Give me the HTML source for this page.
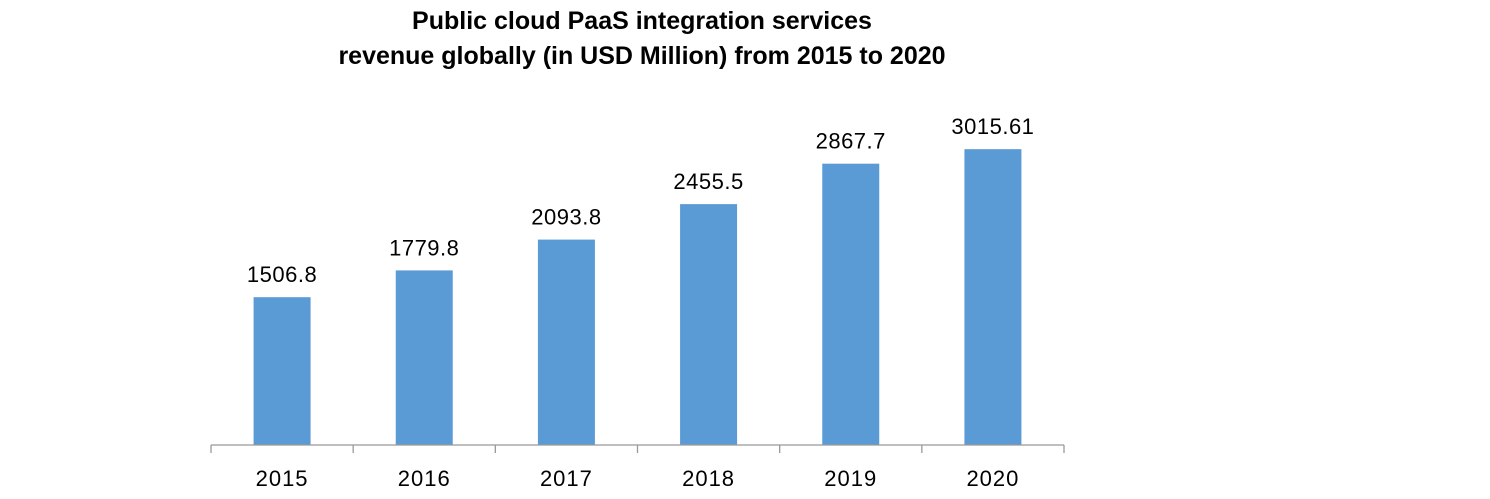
<!DOCTYPE html>
<html><head><meta charset="utf-8"><style>
body{margin:0;background:#fff;width:1490px;height:494px;overflow:hidden}
svg text{font-family:"Liberation Sans",sans-serif}
</style></head><body>
<svg id="c" width="1490" height="494">
<text x="642" y="29" text-anchor="middle" font-size="25" font-weight="bold" fill="#000">Public cloud PaaS integration services</text>
<text x="642" y="64" text-anchor="middle" font-size="25" font-weight="bold" fill="#000">revenue globally (in USD Million) from 2015 to 2020</text>
<g id="plot"></g>
</svg>
<script>
const categories=["2015","2016","2017","2018","2019","2020"];
const values=[1506.8,1779.8,2093.8,2455.5,2867.7,3015.61];
const valueLabels=["1506.8","1779.8","2093.8","2455.5","2867.7","3015.61"];
const NS="http://www.w3.org/2000/svg";
const g=document.getElementById('plot');
const x0=211,x1=1064,base=445,scale=0.0981;
const step=(x1-x0)/categories.length;
const xs=i=>x0+step*(i+0.5);
const ys=v=>base-v*scale;
function mk(t,a){const e=document.createElementNS(NS,t);for(const k in a)e.setAttribute(k,a[k]);g.appendChild(e);return e;}
categories.forEach((c,i)=>{
  const b=mk('rect',{x:xs(i)-28.5,y:ys(values[i]),width:57,height:base-ys(values[i]),fill:'#5b9bd5'});
  
  
  const t=mk('text',{x:xs(i),y:ys(values[i])-15,'text-anchor':'middle','font-size':22,'letter-spacing':0.5,fill:'#000'});
  t.textContent=valueLabels[i];
  
  
  const l=mk('text',{x:xs(i),y:486,'text-anchor':'middle','font-size':22,'letter-spacing':1,fill:'#000'});
  l.textContent=c;
  
  
});
const ax=mk('line',{x1:x0,x2:x1,y1:base,y2:base,stroke:'#999','stroke-width':1.3});


for(let i=0;i<=categories.length;i++){
  const tk=mk('line',{x1:x0+step*i,x2:x0+step*i,y1:base,y2:base+8,stroke:'#999','stroke-width':1.3});
  
  
}
</script>
</body></html>
